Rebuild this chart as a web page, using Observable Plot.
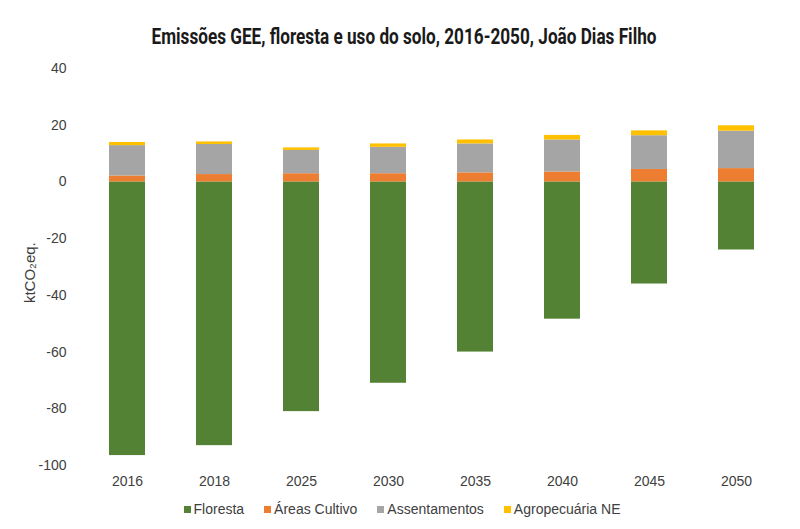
<!DOCTYPE html>
<html>
<head>
<meta charset="utf-8">
<script src="https://cdn.jsdelivr.net/npm/d3@7"></script>
<script src="https://cdn.jsdelivr.net/npm/@observablehq/plot@0.6"></script>
<style>
  html, body { margin: 0; padding: 0; background: #fff; }
  #wrap { position: relative; width: 800px; height: 529px; overflow: hidden; font-family: "Liberation Sans", Arial, sans-serif; }
  #title { position: absolute; left: 404px; top: 23px; white-space: nowrap;
    font-family: "Liberation Sans Narrow", "Arial Narrow", Roboto, sans-serif; font-weight: bold; font-size: 22px; color: #1a1a1a; line-height: 28px; transform-origin: 0 0; }
  #chart { position: absolute; left: 0; top: 55px; }
  #legend { position: absolute; left: 0; top: 499px; width: 804px; display: flex; justify-content: center; gap: 20px;
    font-size: 14px; color: #404040; line-height: 20px; }
  #legend .item { display: flex; align-items: center; }
  #legend .sw { width: 7px; height: 7px; margin-right: 3px; }
</style>
</head>
<body>
<div id="wrap">
  <div id="title">Emissões GEE, floresta e uso do solo, 2016-2050, João Dias Filho</div>
  <div id="chart"></div>
  <div id="legend"></div>
</div>
<script>
const years = ["2016", "2018", "2025", "2030", "2035", "2040", "2045", "2050"];
const series = ["Floresta", "Áreas Cultivo", "Assentamentos", "Agropecuária NE"];
const colors = ["#548235", "#ED7D31", "#A5A5A5", "#FFC000"];
const floresta = [-96.5, -93.0, -81.0, -71.0, -60.0, -48.4, -36.0, -24.0];
const areasCultivo = [2.1, 2.6, 2.9, 2.9, 3.2, 3.5, 4.4, 4.7];
const assentamentos = [10.7, 10.6, 8.2, 9.3, 10.2, 11.3, 11.9, 13.2];
const agropecuaria = [1.1, 0.9, 0.9, 1.2, 1.4, 1.6, 1.7, 1.9];
const yTicks = [-100, -80, -60, -40, -20, 0, 20, 40];
const yLabel = "ktCO₂eq.";

const values = [floresta, areasCultivo, assentamentos, agropecuaria];
const data = [];
series.forEach((s, i) => years.forEach((y, j) => data.push({year: y, series: s, value: values[i][j]})));

const chart = Plot.plot({
  width: 800,
  height: 440,
  marginLeft: 81,
  marginRight: 18,
  marginTop: 13,
  marginBottom: 30,
  style: {fontFamily: '"Liberation Sans", Arial, sans-serif', fontSize: "14px", color: "#404040", background: "#fff"},
  x: {domain: years, paddingInner: 0.59, paddingOuter: 0.295, label: null},
  y: {domain: [-100, 40], label: null},
  color: {domain: series, range: colors},
  marks: [
    Plot.gridY(yTicks, {stroke: "#d9d9d9", strokeOpacity: 1, strokeWidth: 1, x1: 80, x2: 782}),
    Plot.axisY(yTicks, {tickSize: 0, tickPadding: 15, fontSize: 14, label: null, tickFormat: d => String(d)}),
    Plot.text([yLabel], {frameAnchor: "left", textAnchor: "middle", y: () => -32, dx: -51, rotate: -90, fontSize: 15, fill: "#404040"}),
    Plot.axisX({tickSize: 0, tickPadding: 11, fontSize: 14, label: null}),
    Plot.barY(data, Plot.stackY({order: series}, {x: "year", y: "value", fill: "series"}))
  ]
});
document.getElementById("chart").appendChild(chart);

const title = document.getElementById("title");
const w = title.getBoundingClientRect().width;
const s = 505 / w;
title.style.transform = `translateX(${-252.5}px) scaleX(${s})`;

const legend = document.getElementById("legend");
series.forEach((s, i) => {
  const item = document.createElement("div");
  item.className = "item";
  const sw = document.createElement("span");
  sw.className = "sw";
  sw.style.background = colors[i];
  const t = document.createElement("span");
  t.textContent = s;
  item.appendChild(sw); item.appendChild(t);
  legend.appendChild(item);
});
</script>
</body>
</html>
